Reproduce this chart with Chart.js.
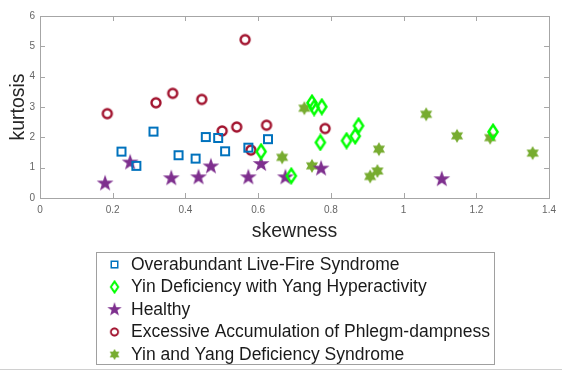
<!DOCTYPE html>
<html>
<head>
<meta charset="utf-8">
<script src="https://cdn.jsdelivr.net/npm/chart.js@4/dist/chart.umd.min.js"></script>
<style>
  html, body { margin: 0; padding: 0; background: #fff; }
  #wrap { width: 562px; height: 374px; position: relative; }
</style>
</head>
<body>
<div id="wrap"><canvas id="chart-area" width="562" height="374"></canvas></div>
<script>
// values
var seriesNames = [
    'Overabundant Live-Fire Syndrome',
    'Yin Deficiency with Yang Hyperactivity',
    'Healthy',
    'Excessive Accumulation of Phlegm-dampness',
    'Yin and Yang Deficiency Syndrome'
];
var skewLiveFire = [0.224, 0.265, 0.312, 0.381, 0.428, 0.456, 0.490, 0.509, 0.573, 0.627];
var kurtLiveFire = [1.53, 1.06, 2.19, 1.41, 1.30, 2.01, 1.98, 1.54, 1.66, 1.94];
var skewYinDef = [0.608, 0.691, 0.748, 0.754, 0.775, 0.771, 0.843, 0.867, 0.876, 1.246];
var kurtYinDef = [1.53, 0.73, 3.14, 2.98, 3.01, 1.83, 1.89, 2.04, 2.38, 2.18];
var skewHealthy = [0.179, 0.248, 0.361, 0.436, 0.470, 0.573, 0.608, 0.675, 0.773, 1.105];
var kurtHealthy = [0.48, 1.17, 0.65, 0.68, 1.04, 0.68, 1.12, 0.68, 0.97, 0.62];
var skewPhlegm = [0.185, 0.319, 0.365, 0.445, 0.501, 0.541, 0.564, 0.580, 0.623, 0.784];
var kurtPhlegm = [2.78, 3.14, 3.45, 3.25, 2.21, 2.34, 5.22, 1.58, 2.40, 2.29];
var skewYinYang = [0.666, 0.727, 0.748, 0.908, 0.928, 0.932, 1.062, 1.147, 1.238, 1.355];
var kurtYinYang = [1.34, 2.96, 1.06, 0.71, 0.89, 1.61, 2.76, 2.05, 1.99, 1.48];

var xTicks = [0, 0.2, 0.4, 0.6, 0.8, 1, 1.2, 1.4];
var yTicks = [0, 1, 2, 3, 4, 5, 6];

var FONT = '"Liberation Sans", Arial, sans-serif';

function pairs(xs, ys) {
    return xs.map(function(x, i) { return {x: x, y: ys[i]}; });
}

// matlab-like markers as small canvases
function marker(size, paint) {
    var c = document.createElement('canvas');
    c.width = size; c.height = size;
    var g = c.getContext('2d');
    g.translate(size / 2, size / 2);
    paint(g);
    return c;
}
function starPath(g, n, rOut, rIn) {
    g.beginPath();
    for (var i = 0; i < n * 2; i++) {
        var r = i % 2 ? rIn : rOut;
        var a = -Math.PI / 2 + i * Math.PI / n;
        g.lineTo(r * Math.cos(a), r * Math.sin(a));
    }
    g.closePath();
}

var squareMk = marker(14, function(g) {
    g.strokeStyle = '#0072BD'; g.lineWidth = 2;
    g.strokeRect(-4, -4, 8, 8);
});
var diamondMk = marker(18, function(g) {
    g.strokeStyle = '#00FF00'; g.lineWidth = 2.4;
    g.beginPath();
    g.moveTo(0, -7); g.lineTo(4.6, 0); g.lineTo(0, 7); g.lineTo(-4.6, 0);
    g.closePath(); g.stroke();
});
var starMk = marker(20, function(g) {
    g.fillStyle = '#7E2F8E';
    starPath(g, 5, 8.8, 3.5);
    g.fill();
});
var circleMk = marker(14, function(g) {
    g.strokeStyle = '#A2142F'; g.lineWidth = 2.4;
    g.beginPath(); g.arc(0, 0, 4.5, 0, Math.PI * 2); g.stroke();
});
var hexMk = marker(18, function(g) {
    g.fillStyle = '#77AC30';
    starPath(g, 6, 7, 4);
    g.fill();
});

var markers = [squareMk, diamondMk, starMk, circleMk, hexMk];
var colours = ['#0072BD', '#00FF00', '#7E2F8E', '#A2142F', '#77AC30'];
var points = [
    pairs(skewLiveFire, kurtLiveFire),
    pairs(skewYinDef, kurtYinDef),
    pairs(skewHealthy, kurtHealthy),
    pairs(skewPhlegm, kurtPhlegm),
    pairs(skewYinYang, kurtYinYang)
];

// box round the plot with inward ticks on all four sides
var boxPlugin = {
    id: 'box',
    afterDraw: function(chart) {
        var ctx = chart.ctx, a = chart.chartArea;
        var xs = chart.scales.x, ys = chart.scales.y;
        ctx.save();
        ctx.strokeStyle = '#a6a6a6';
        ctx.lineWidth = 1;
        ctx.beginPath();
        xTicks.forEach(function(v) {
            var px = Math.round(xs.getPixelForValue(v)) + 0.5;
            ctx.moveTo(px, a.bottom); ctx.lineTo(px, a.bottom - 5);
            ctx.moveTo(px, a.top); ctx.lineTo(px, a.top + 5);
        });
        yTicks.forEach(function(v) {
            var py = Math.round(ys.getPixelForValue(v)) + 0.5;
            ctx.moveTo(a.left, py); ctx.lineTo(a.left + 5, py);
            ctx.moveTo(a.right, py); ctx.lineTo(a.right - 5, py);
        });
        ctx.stroke();
        ctx.strokeRect(Math.round(a.left) + 0.5, Math.round(a.top) + 0.5,
            Math.round(a.right - a.left), Math.round(a.bottom - a.top));

        // legend box underneath
        ctx.strokeStyle = '#a0a0a0';
        ctx.strokeRect(96.5, 252.5, 398, 112);
        ctx.strokeStyle = '#d0d0d0';
        ctx.beginPath(); ctx.moveTo(0, 369.5); ctx.lineTo(562, 369.5); ctx.stroke();
        ctx.font = '17.5px ' + FONT;
        ctx.fillStyle = '#1a1a1a';
        ctx.textBaseline = 'middle';
        chart.data.datasets.forEach(function(ds, i) {
            var cy = 264.5 + i * 22.5;
            var mk = ds.pointStyle;
            var sc = i === 2 ? 0.85 : 0.8;
            ctx.drawImage(mk, 114.5 - mk.width * sc / 2, cy - mk.height * sc / 2,
                mk.width * sc, mk.height * sc);
            ctx.fillText(ds.label, 131, cy + 0.5);
        });
        ctx.restore();
    }
};

var config = {
    type: 'scatter',
    data: {
        datasets: seriesNames.map(function(name, i) {
            return {
                label: name,
                data: points[i],
                pointStyle: markers[i],
                borderColor: colours[i],
                backgroundColor: colours[i]
            };
        })
    },
    options: {
        responsive: false,
        animation: false,
        events: [],
        layout: { padding: { top: 16, right: 10, bottom: 131, left: 0 } },
        plugins: {
            legend: { display: false },
            tooltip: { enabled: false }
        },
        scales: {
            x: {
                type: 'linear',
                min: 0, max: 1.4,
                afterBuildTicks: function(s) { s.ticks = xTicks.map(function(v) { return {value: v}; }); },
                afterFit: function(s) { s.height = 45; },
                grid: { display: false, drawTicks: false, tickLength: 0 },
                border: { display: false },
                ticks: {
                    padding: 6,
                    color: '#666',
                    font: { family: FONT, size: 10 },
                    callback: function(v) { return String(parseFloat(v.toFixed(1))); }
                },
                title: {
                    display: true,
                    text: 'skewness',
                    color: '#262626',
                    font: { family: FONT, size: 19.5 },
                    padding: { top: 0, bottom: 0 }
                }
            },
            y: {
                type: 'linear',
                min: 0, max: 6,
                afterBuildTicks: function(s) { s.ticks = yTicks.map(function(v) { return {value: v}; }); },
                afterFit: function(s) { s.width = 40; },
                grid: { display: false, drawTicks: false, tickLength: 0 },
                border: { display: false },
                ticks: {
                    padding: 5,
                    color: '#666',
                    font: { family: FONT, size: 10 }
                },
                title: {
                    display: true,
                    text: 'kurtosis',
                    color: '#262626',
                    font: { family: FONT, size: 19.5 },
                    padding: { top: 7, bottom: 0 }
                }
            }
        }
    },
    plugins: [boxPlugin]
};

var ctx = document.getElementById('chart-area').getContext('2d');
window.myScatter = new Chart(ctx, config);
</script>
</body>
</html>
